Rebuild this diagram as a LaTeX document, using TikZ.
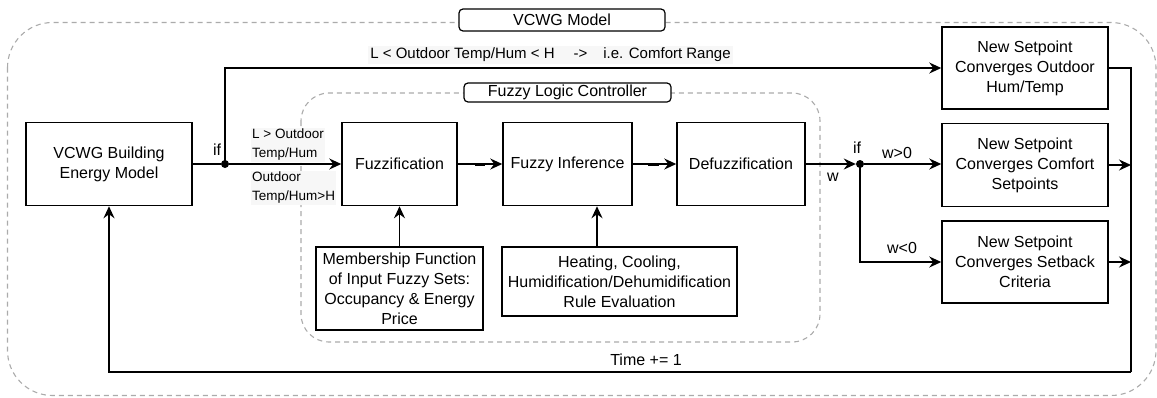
\documentclass[tikz,border=0pt]{standalone}
\usepackage{fontspec}
\setmainfont{Liberation Sans}
\usetikzlibrary{arrows.meta,calc}
\definecolor{dashgray}{HTML}{ABABAB}
\definecolor{lblbg}{HTML}{F7F7F7}
\tikzset{
 blk/.style={draw=black, line width=1.5pt, fill=white, align=center, inner sep=0pt, font=\fontsize{16}{20}\selectfont},
 arr/.style={line width=1.5pt, -{Stealth[length=12pt,width=11pt,inset=4pt]}},
 ln/.style={line width=1.5pt},
 grp/.style={draw=dashgray, line width=1.1pt, dash pattern=on 5pt off 4pt},
 ttl/.style={draw=black, line width=1.2pt, rounded corners=4pt, fill=white, inner sep=0pt, font=\fontsize{16}{19}\selectfont},
 lbl/.style={font=\fontsize{16}{19}\selectfont, inner sep=1pt},
 small/.style={font=\fontsize{13.5}{19}\selectfont, align=left, fill=lblbg, inner sep=1pt},
 toplbl/.style={font=\fontsize{15}{18}\selectfont, fill=lblbg, inner sep=2pt},
 jn/.style={circle, fill=black, inner sep=0pt, minimum size=8pt},
 thick bit/.style={line width=3pt}
}
\begin{document}
\begin{tikzpicture}[x=1pt,y=-1pt]
\useasboundingbox (0,0) rectangle (1157,397);
% group frames
\draw[grp, rounded corners=45pt] (7.5,22.5) rectangle (1156,395.5);
\node[ttl, minimum width=206pt, minimum height=22pt] (t1) at (562,20) {VCWG Model};
\draw[grp, rounded corners=28pt] (301,93) rectangle (820,342);
\node[ttl, minimum width=207pt, minimum height=19pt] (t2) at (567.5,92.5) {Fuzzy Logic Controller};
% blocks
\node[blk, minimum width=166pt, minimum height=83pt] (vcwg) at (109,164) {VCWG Building\\Energy Model};
\node[blk, minimum width=115pt, minimum height=83pt] (fuzz) at (399.5,164) {Fuzzification};
\node[blk, minimum width=129pt, minimum height=83pt] (inf) at (567.5,164) {Fuzzy Inference};
\node[blk, minimum width=128pt, minimum height=83pt] (defuzz) at (741,164) {Defuzzification};
\node[blk, minimum width=166pt, minimum height=82pt] (new1) at (1025,68) {New Setpoint\\Converges Outdoor\\Hum/Temp};
\node[blk, minimum width=166pt, minimum height=83pt] (new2) at (1025,165) {New Setpoint\\Converges Comfort\\Setpoints};
\node[blk, minimum width=166pt, minimum height=82pt] (new3) at (1025,262) {New Setpoint\\Converges Setback\\Criteria};
\node[blk, minimum width=167pt, minimum height=83pt] (memb) at (399.5,288.5) {Membership Function\\of Input Fuzzy Sets:\\Occupancy \& Energy\\Price};
\node[blk, minimum width=235pt, minimum height=69pt] (heat) at (619.5,281.5) {Heating, Cooling,\\Humidification/Dehumidification\\Rule Evaluation};
% junctions
\node[jn] (d1) at (225,164) {};
\node[jn] (d2) at (860,164) {};
\coordinate (r1) at (1131,68);
\coordinate (rb) at (1131,372);
% connectors
\draw[ln] (vcwg) -- (d1);
\draw[arr] (d1) -- (fuzz);
\draw[arr] (d1.center) |- (new1);
\draw[arr] (fuzz) -- (inf);
\draw[arr] (inf) -- (defuzz);
\draw[thick bit] (475,164) -- (485,164);
\draw[thick bit] (648,164) -- (659,164);
\draw[arr] (defuzz) -- (d2);
\draw[arr] (d2) -- (new2.west |- d2);
\draw[arr] (d2.center) |- (new3);
\draw[ln] (new1.east) -- (r1) -- (rb);
\draw[arr] (rb) -| (vcwg);
\draw[arr] (new2) -- (new2 -| r1);
\draw[arr] (new3) -- (new3 -| r1);
\draw[arr] (memb) -- (fuzz);
\draw[arr] ([xshift=-22.5pt]heat.north) -- ([xshift=-22.5pt]heat.north |- inf.south);
% labels
\node[toplbl] (tl) at (550.5,55) {L < Outdoor Temp/Hum < H\hspace{19pt}->\hspace{16pt}i.e. Comfort Range};
\node[lbl] (if1) at (217,150) {if};
\node[small, anchor=west] (la) at (251,145) {L > Outdoor\\Temp/Hum};
\node[small, anchor=west] (lb) at (251,188) {Outdoor\\Temp/Hum>H};
\node[lbl] (lw) at (833,177) {w};
\node[lbl] (if2) at (857,148) {if};
\node[lbl] (lwp) at (897,153) {w>0};
\node[lbl] (lwn) at (902,248) {w<0};
\node[lbl] (time) at (646,360) {Time += 1};
\end{tikzpicture}
\end{document}
